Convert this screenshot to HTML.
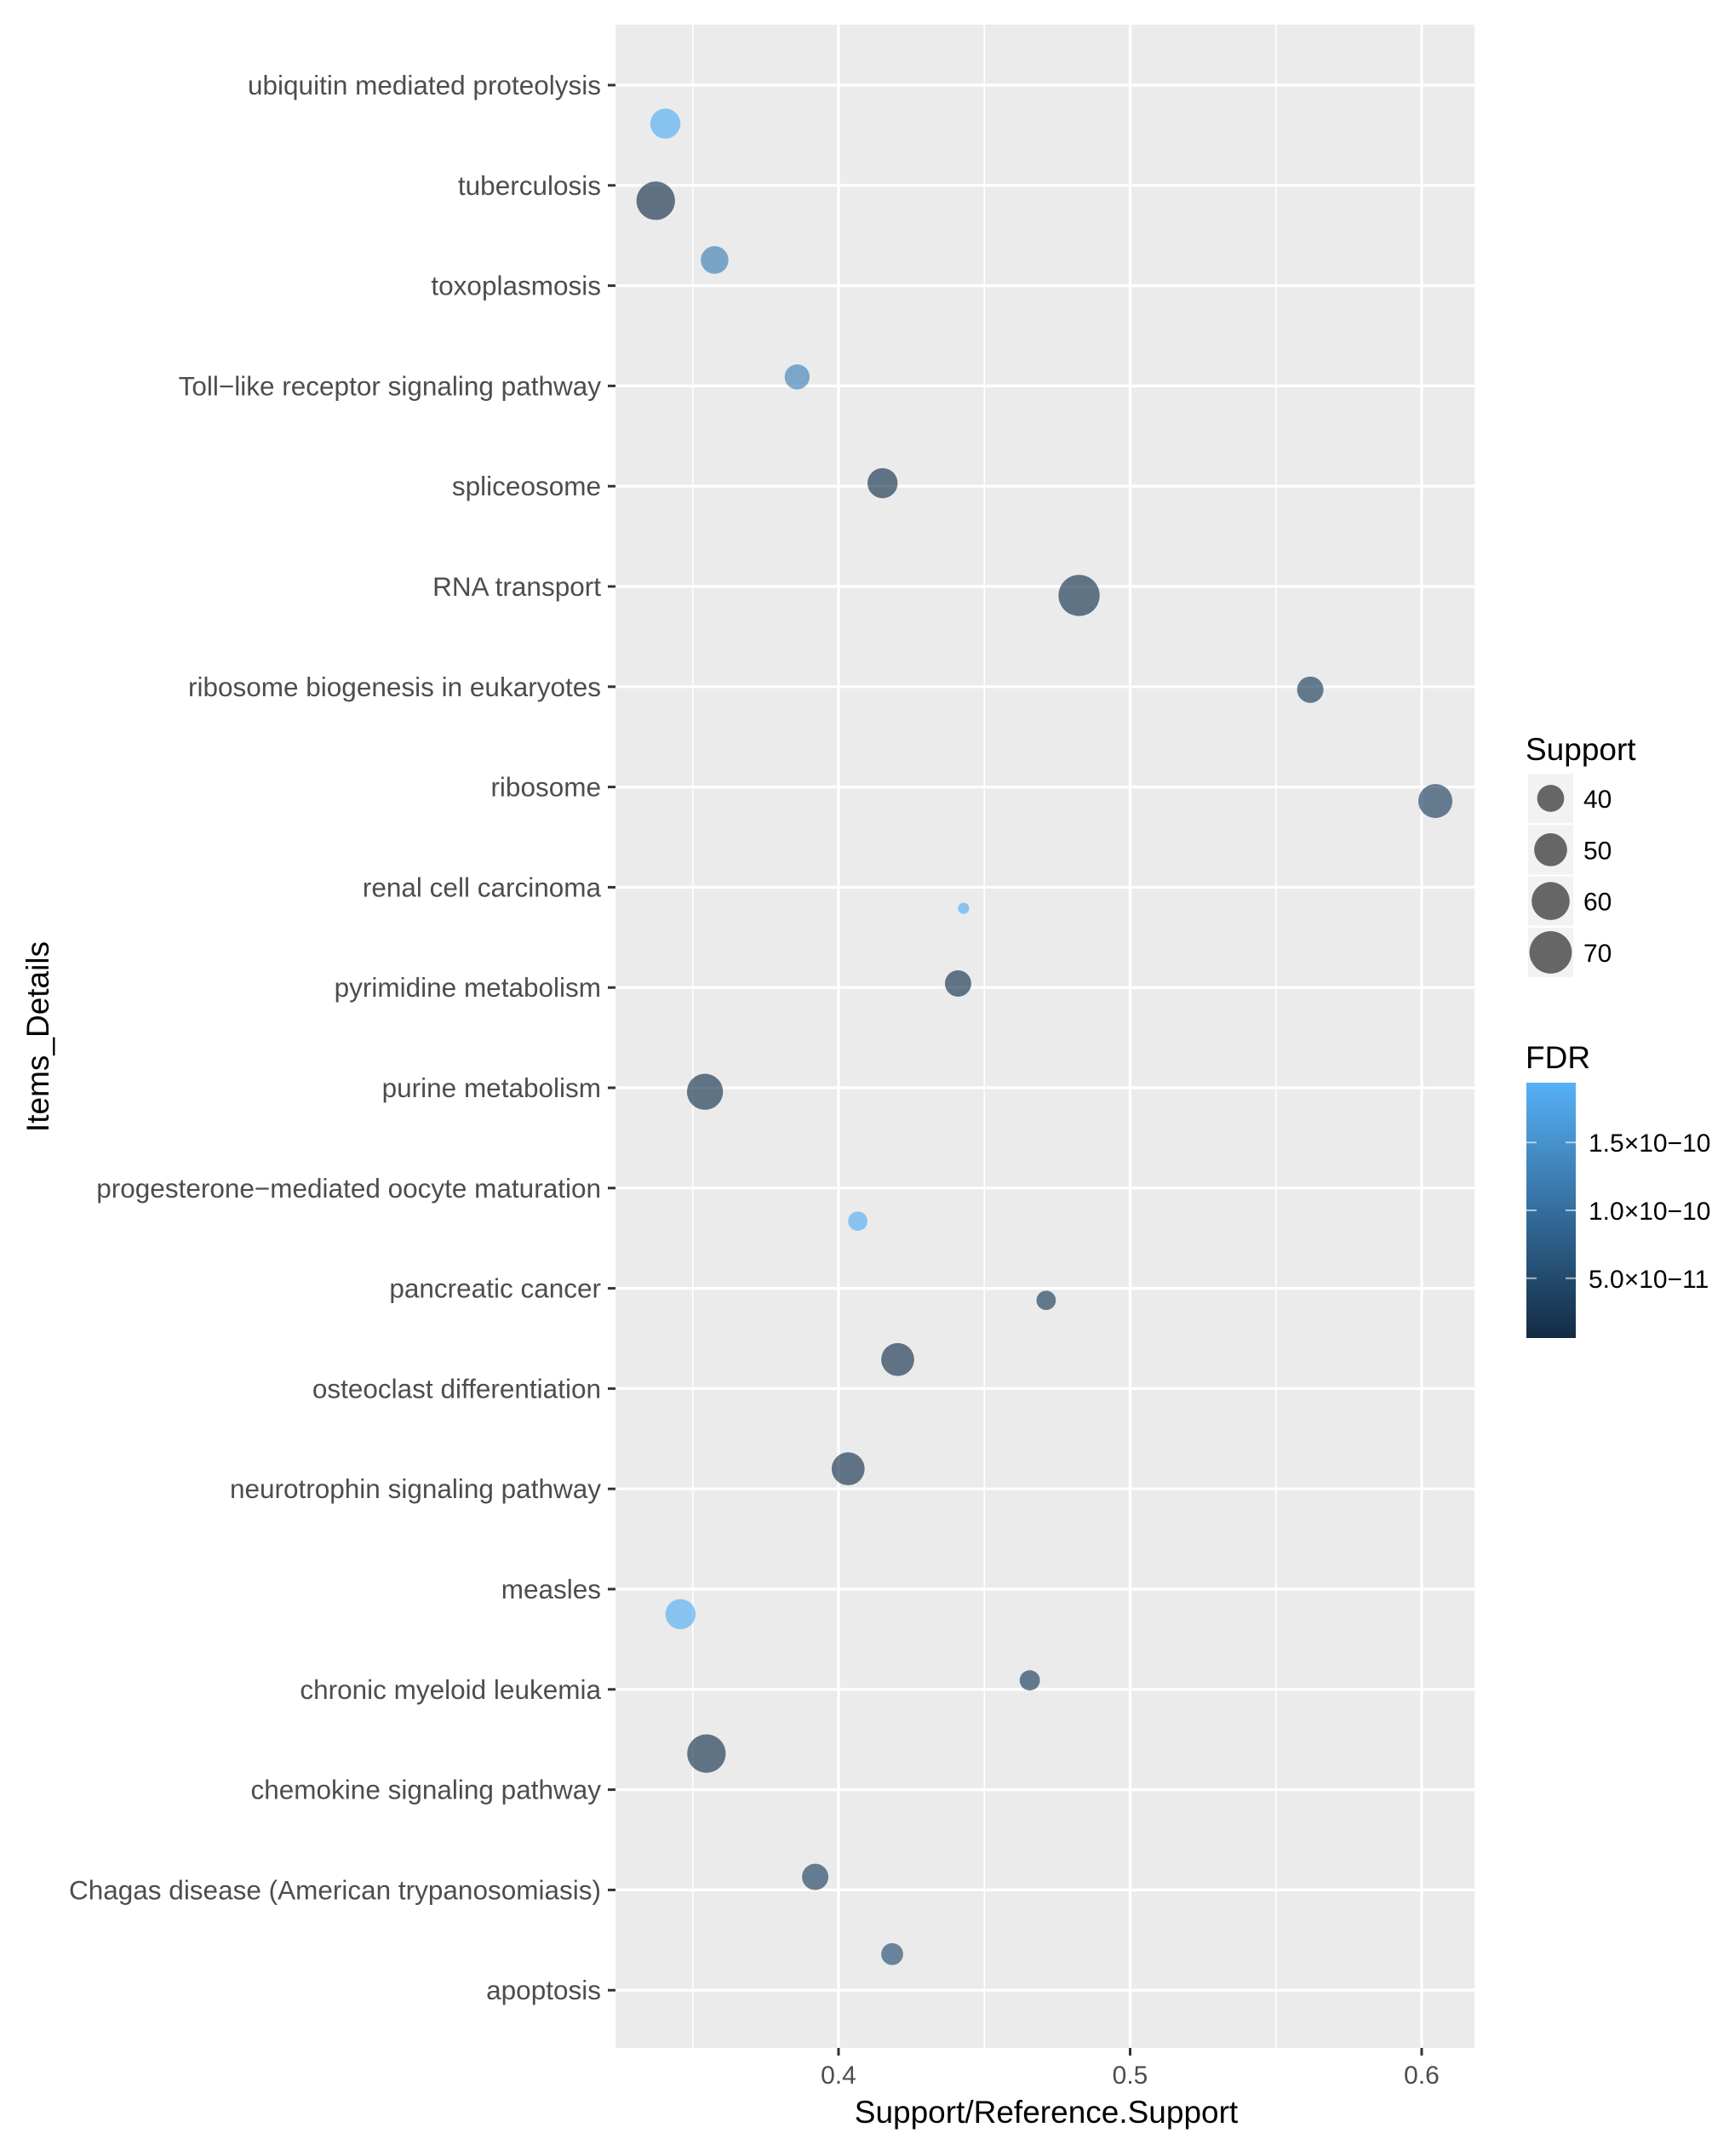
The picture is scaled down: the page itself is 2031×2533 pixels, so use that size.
<!DOCTYPE html>
<html><head><meta charset="utf-8"><style>
html,body{margin:0;padding:0;background:#fff;}
svg{display:block;font-family:"Liberation Sans",Arial,sans-serif;}
</style></head><body>
<svg id="chart" width="2031" height="2533" viewBox="0 0 2031 2533" xmlns="http://www.w3.org/2000/svg">
<defs>
<linearGradient id="fdrgrad" x1="0" y1="1" x2="0" y2="0">
<stop offset="0" stop-color="#132B43"/><stop offset="1" stop-color="#56B1F7"/>
</linearGradient>
</defs>
<g id="plot"></g>
</svg>
<script>
const categories = ["ubiquitin mediated proteolysis","tuberculosis","toxoplasmosis","Toll\u2212like receptor signaling pathway","spliceosome","RNA transport","ribosome biogenesis in eukaryotes","ribosome","renal cell carcinoma","pyrimidine metabolism","purine metabolism","progesterone\u2212mediated oocyte maturation","pancreatic cancer","osteoclast differentiation","neurotrophin signaling pathway","measles","chronic myeloid leukemia","chemokine signaling pathway","Chagas disease (American trypanosomiasis)","apoptosis"];
const ratioValues = [0.3406,0.3373,0.3575,0.3858,0.4151,0.4825,0.5618,0.6047,0.4429,0.441,0.3542,0.4066,0.4712,0.4203,0.4033,0.3458,0.4656,0.3547,0.392,0.4184];
const rowPositions = [0.384,1.153,1.744,2.91,3.97,5.09,6.03,7.14,8.21,8.96,10.04,11.33,12.12,12.71,13.80,15.25,15.91,16.64,17.87,18.64];
const supportValues = [45,61,41,37,45,67,39,52,23,39,56,30,30,50,50,45,31,61,39,33];
const fdrValues = [1.9e-10,0.15e-10,1.25e-10,1.3e-10,0.2e-10,0.2e-10,0.3e-10,0.35e-10,1.9e-10,0.2e-10,0.2e-10,1.9e-10,0.3e-10,0.2e-10,0.2e-10,1.9e-10,0.3e-10,0.2e-10,0.4e-10,0.6e-10];
const xTicks = [0.4,0.5,0.6];
const xTickLabels = ["0.4","0.5","0.6"];
const xMinor = [0.35,0.45,0.55];
const sizeLegend = [40,50,60,70];
const fdrTicks = [1.5e-10,1.0e-10,5.0e-11];
const fdrTickLabels = ["1.5\u00d710\u221210","1.0\u00d710\u221210","5.0\u00d710\u221211"];

const NS="http://www.w3.org/2000/svg";
const g=document.getElementById('plot');
const P={l:723,r:1732,t:29,b:2406};
const xS=v=>985+(v-0.4)*3425;
const yS=i=>100+i*117.8;
const rS=s=>Math.sqrt(Math.max(12.3*s-240,20));
const fMin=0.6e-11,fMax=1.94e-10;
function lerp(a,b,t){return Math.round(a+(b-a)*t);}
function col(f){let t=Math.min(1,Math.max(0,(f-fMin)/(fMax-fMin)));return `rgb(${lerp(0x13,0x56,t)},${lerp(0x2B,0xB1,t)},${lerp(0x43,0xF7,t)})`;}
function mk(tag,attrs,parent){const e=document.createElementNS(NS,tag);for(const k in attrs)e.setAttribute(k,attrs[k]);(parent||g).appendChild(e);return e;}

const panel=mk('rect',{x:P.l,y:P.t,width:P.r-P.l,height:P.b-P.t,fill:'#EBEBEB'});


xMinor.forEach(v=>{const l=mk('line',{x1:xS(v),x2:xS(v),y1:P.t,y2:P.b,stroke:'#fff','stroke-width':1.6});

});
xTicks.forEach((v,i)=>{const l=mk('line',{x1:xS(v),x2:xS(v),y1:P.t,y2:P.b,stroke:'#fff','stroke-width':3.2});


const t=mk('line',{x1:xS(v),x2:xS(v),y1:P.b,y2:P.b+9,stroke:'#333','stroke-width':3});


const tx=mk('text',{x:xS(v),y:2448,'text-anchor':'middle','font-size':30,fill:'#4D4D4D'});tx.textContent=xTickLabels[i];

});
categories.forEach((c,i)=>{const y=yS(i);
const l=mk('line',{x1:P.l,x2:P.r,y1:y,y2:y,stroke:'#fff','stroke-width':3.2});


const t=mk('line',{x1:P.l-9,x2:P.l,y1:y,y2:y,stroke:'#333','stroke-width':3});


const tx=mk('text',{x:P.l-17,y:y+11,'text-anchor':'end','font-size':31.5,fill:'#4D4D4D'});tx.textContent=c;

});
ratioValues.forEach((v,i)=>{const c=mk('circle',{cx:xS(v),cy:yS(rowPositions[i]),r:rS(supportValues[i]),fill:col(fdrValues[i]),'fill-opacity':0.66});

});

const xt=mk('text',{x:1229,y:2494,'text-anchor':'middle','font-size':37,fill:'#000'});xt.textContent='Support/Reference.Support';


const yt=mk('text',{x:0,y:0,'text-anchor':'middle','font-size':37,fill:'#000',transform:'translate(57,1218) rotate(-90)'});yt.textContent='Items_Details';



const st=mk('text',{x:1792,y:893,'font-size':37,fill:'#000'});st.textContent='Support';


sizeLegend.forEach((s,i)=>{const cy=938+i*60.3;
const b=mk('rect',{x:1795,y:cy-29,width:53,height:58,fill:'#F2F2F2'});


const c=mk('circle',{cx:1821.5,cy:cy,r:rS(s),fill:'#666'});


const tx=mk('text',{x:1860,y:cy+11,'font-size':30,fill:'#000'});tx.textContent=String(s);

});

const ft=mk('text',{x:1792,y:1255,'font-size':37,fill:'#000'});ft.textContent='FDR';


const bar=mk('rect',{x:1793,y:1272,width:58,height:300,fill:'url(#fdrgrad)'});


const fy=f=>1572-(f-fMin)/(fMax-fMin)*300;
fdrTicks.forEach((f,i)=>{const y=fy(f);
mk('line',{x1:1793,x2:1805,y1:y,y2:y,stroke:'#fff','stroke-opacity':0.6,'stroke-width':2});
mk('line',{x1:1839,x2:1851,y1:y,y2:y,stroke:'#fff','stroke-opacity':0.6,'stroke-width':2});
const tx=mk('text',{x:1866,y:y+11,'font-size':30,fill:'#000'});tx.textContent=fdrTickLabels[i];

});
</script>
</body></html>
